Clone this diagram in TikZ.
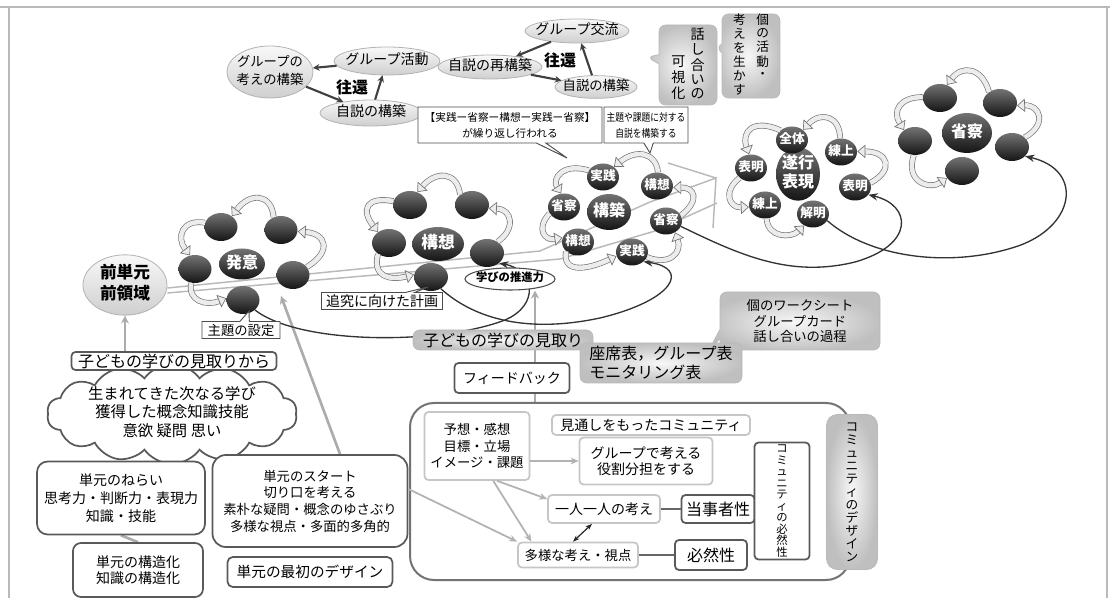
\documentclass[tikz,border=0pt]{standalone}
\usepackage{fontspec}
\setmainfont{Noto Sans CJK JP}
\newfontfamily\jpc[FakeStretch=0.82]{Noto Sans CJK JP}
\usetikzlibrary{shapes.geometric,shapes.symbols,shapes.callouts,arrows.meta,calc}
\pgfdeclarelayer{bg}
\pgfsetlayers{bg,main}
\newcommand\fsz[2]{\fontsize{#1pt}{#2pt}\selectfont}
\newcommand\Zc[1]{\makebox[0pt]{\begin{tabular}{@{}c@{}}#1\end{tabular}}}
\newcommand\Vb[1]{\begin{tabular}[b]{@{}c@{}}#1\end{tabular}}
\newcommand\Vt[1]{\begin{tabular}[t]{@{}c@{}}#1\end{tabular}}
\tikzset{
  sz/.style 2 args={minimum width=#1*0.75pt, minimum height=#2*0.75pt, inner sep=0pt},
  dot/.style={ellipse, sz={32}{27}, top color=black!55, bottom color=black!92, text=white, font=\bfseries\fsz{9.5}{10}},
  bdot/.style={ellipse, inner sep=0pt, top color=black!55, bottom color=black!92, text=white, font=\bfseries\fsz{12}{13}},
  gell/.style={ellipse, draw=gray!60, line width=0.6pt, top color=gray!5, bottom color=gray!38},
  carrow/.style={draw=black!55, double=gray!15, double distance=3.4pt, line width=0.5pt, -{Triangle[length=6pt,width=10pt,fill=gray!15]}},
  darr/.style={draw=black!80, line width=1pt, -{Stealth[length=7pt,width=5.5pt]}},
  sarr/.style={draw=black!75, line width=1.6pt, -{Stealth[length=5pt,width=5pt]}},
  gline/.style={draw=gray!65, line width=2pt},
  road/.style={draw=gray!55, line width=1.1pt},
  callb/.style={rectangle callout, draw=black!70, fill=white, line width=0.7pt, align=center},
  gfill/.style={inner color=gray!6, outer color=gray!50},
  gcall/.style={rectangle callout, rounded corners=5pt, draw=gray!55, line width=0.5pt, gfill},
  gbox/.style={rectangle, rounded corners=5pt, draw=gray!55, line width=0.5pt, gfill, align=center},
  wbox/.style={rectangle, rounded corners=3pt, draw=black!65, line width=1.3pt, fill=white, align=center},
  lbox/.style={rectangle, rounded corners=3pt, draw=gray!45, line width=1.3pt, fill=white, align=center},
  garrow/.style={draw=gray!60, line width=1.3pt, -{Stealth[length=6pt,width=5pt]}},
}
\begin{document}
\begin{tikzpicture}[x=0.75pt,y=-0.75pt]
\useasboundingbox (0,0) rectangle (1110,598);
\draw[gray!55, line width=0.8pt] (0,7) -- (1110,7);
\draw[gray!55, line width=0.8pt] (9,7) -- (9,598);
\draw[gray!55, line width=0.8pt] (1107,7) -- (1107,598);

% ---- top groups
\node[gell, sz={86}{52}, font=\fsz{10}{13}] (gkk) at (270,72) {\Zc{グループの\\考えの構築}};
\node[gell, sz={106}{28}, font=\fsz{10.5}{12}] (gka) at (387,61) {\Zc{グループ活動}};
\node[gell, sz={102}{26}, font=\fsz{10.5}{12}] (jsk1) at (371,113) {\Zc{自説の構築}};
\node[font=\bfseries\fsz{12}{14}] (ok1) at (352,87) {往還};
\node[gell, sz={104}{24}, font=\fsz{10.5}{12}] (gkr) at (577,31) {\Zc{グループ交流}};
\node[gell, sz={104}{24}, font=\fsz{10.5}{12}] (jsr) at (490,67) {\Zc{自説の再構築}};
\node[gell, sz={82}{22}, font=\fsz{10}{12}] (jsk2) at (596,87) {\Zc{自説の構築}};
\node[font=\bfseries\fsz{12}{14}] (ok2) at (560,60) {往還};
\draw[sarr] (gka) -- (gkk);
\draw[sarr] (gkk) -- (jsk1);
\draw[sarr] (jsk1) -- (gka);
\draw[sarr] (gkr) -- (jsr);
\draw[sarr] (jsr) -- (jsk2);
\draw[sarr] (jsk2) -- (gkr);

\node[gcall, sz={58}{80}, callout absolute pointer={(647,57)}, font=\fsz{10.5}{10.5}] (kashika) at (688,65)
 {\Vb{可\\視\\化}\hspace{4pt}\Vb{話\\し\\合\\い\\の}\hspace{14pt}};
\node[gcall, sz={58}{80}, callout absolute pointer={(716,47)}, font=\fsz{9.5}{9.5}] (kobetsu) at (751,56)
 {\Vt{考\\え\\を\\生\\か\\す}\hspace{8pt}\Vt{個\\の\\活\\動\\・}};

\node[callb, sz={184}{36}, callout absolute pointer={(567,158)}, font=\fsz{8}{12}] (cb1) at (510,125) {【実践ー省察ー構想ー実践ー省察】\\が繰り返し行われる};
\node[callb, sz={84}{36}, callout absolute pointer={(650,153)}, font=\jpc\fsz{8}{12}] (cb2) at (646,125) {主題や課題に対する\\自説を構築する};

% ---- cluster 1
\node[bdot, sz={46}{31}] (c1) at (242,264) {\Zc{発意}};
\node[dot, sz={33}{28}] (c1a) at (221,227) {};
\node[dot, sz={33}{28}] (c1b) at (281,230) {};
\node[dot, sz={33}{28}] (c1c) at (195,269) {};
\node[dot, sz={33}{28}] (c1d) at (293,275) {};
\node[dot, sz={33}{28}] (c1e) at (243,300) {};
% ---- cluster 2
\node[bdot, sz={52}{34}, font=\bfseries\fsz{12.5}{13}] (c2) at (438,244) {\Zc{構想}};
\node[dot, sz={34}{28}] (c2a) at (410,205) {};
\node[dot, sz={34}{28}] (c2b) at (472,205) {};
\node[dot, sz={34}{28}] (c2c) at (389,243) {};
\node[dot, sz={34}{28}] (c2d) at (487,253) {};
\node[dot, sz={34}{28}] (c2e) at (431,277) {};
% ---- cluster 3
\node[bdot, sz={44}{36}] (c3) at (609,212) {\Zc{構築}};
\node[dot] (c3a) at (603,177) {\Zc{実践}};
\node[dot] (c3b) at (657,186) {\Zc{構想}};
\node[dot] (c3c) at (564,207) {\Zc{省察}};
\node[dot] (c3d) at (666,221) {\Zc{省察}};
\node[dot] (c3e) at (578,242) {\Zc{構想}};
\node[dot] (c3f) at (632,252) {\Zc{実践}};
% ---- cluster 4
\node[bdot, sz={44}{44}, font=\bfseries\fsz{12}{13}] (c4) at (798,174) {\Zc{遂行\\表現}};
\node[dot] (d1) at (792,140) {\Zc{全体}};
\node[dot] (d2) at (841,152) {\Zc{練上}};
\node[dot] (d3) at (751,168) {\Zc{表明}};
\node[dot] (d4) at (855,187) {\Zc{表明}};
\node[dot] (d5) at (765,205) {\Zc{練上}};
\node[dot] (d6) at (813,214) {\Zc{解明}};
% ---- cluster 5
\node[bdot, sz={50}{40}] (c5) at (967,133) {\Zc{省察}};
\node[dot, sz={34}{28}] (e1) at (940,98) {};
\node[dot, sz={34}{28}] (e2) at (1000,103) {};
\node[dot, sz={34}{28}] (e3) at (915,141) {};
\node[dot, sz={34}{28}] (e4) at (1012,147) {};
\node[dot, sz={34}{28}] (e5) at (962,171) {};

\node[gell, sz={84}{54}, font=\bfseries\fsz{12.5}{16}] (zen) at (125,285) {\Zc{前単元\\前領域}};
\node[ellipse, draw=black!70, line width=0.8pt, fill=white, sz={90}{22}, font=\bfseries\fsz{8.5}{10}] (suishin) at (510,279) {\Zc{学びの推進力}};
\node[callb, sz={78}{17}, callout absolute pointer={(249,311)}, font=\fsz{10}{12}] (cb3) at (241,330) {主題の設定};
\node[callb, sz={121}{17}, callout absolute pointer={(428,287)}, font=\fsz{10.5}{12}] (cb4) at (382,301) {追究に向けた計画};

% ---- middle
\node[gbox, sz={180}{20}, font=\fsz{12}{14}] (mitori) at (503,340) {子どもの学びの見取り};
\node[gcall, align=center, sz={160}{58}, callout absolute pointer={(708,352)}, font=\fsz{10}{11.5}] (sheet) at (800,321) {個のワークシート\\グループカード\\話し合いの過程};
\node[gbox, sz={162}{40}, align=left, font=\fsz{12}{14}] (zaseki) at (661,363) {座席表，グループ表\\モニタリング表};
\node[wbox, sz={115}{30}, font=\fsz{10.5}{12}] (fb) at (512,378) {フィードバック};

% ---- community
\node[rectangle, rounded corners=18pt, draw=black!55, line width=1.5pt, fill=white, sz={440}{177}] (comm) at (630,491.5) {};
\node[lbox, sz={105}{68}, font=\fsz{10}{12.5}] (yosou) at (477,446) {予想・感想\\目標・立場\\イメージ・課題};
\node[lbox, sz={198}{20}, font=\fsz{10.5}{12}] (mitoshi) at (651,425) {見通しをもったコミュニティ};
\node[lbox, sz={133}{47}, font=\fsz{10.5}{12}] (group) at (646,461) {グループで考える\\役割分担をする};
\node[lbox, sz={112}{28}, font=\fsz{10.5}{12}] (hitori) at (604,509) {一人一人の考え};
\node[wbox, sz={73}{28}, font=\fsz{12}{14}] (tojisha) at (718,509) {当事者性};
\node[lbox, sz={120}{25}, font=\fsz{10}{12}] (tayou) at (578,555) {多様な考え・視点};
\node[wbox, sz={72}{30}, font=\fsz{12}{14}] (hitsuzen) at (711,555) {必然性};
\node[wbox, sz={55}{117}, font=\fsz{8.5}{8.6}] (cnec) at (782,501) {コ\\ミ\\ュ\\ニ\\テ\\ィ\\の\\必\\然\\性};
\node[gbox, rounded corners=8pt, sz={51}{155}, font=\fsz{9.5}{9.75}] (cdes) at (852,492) {コ\\ミ\\ュ\\ニ\\テ\\ィ\\の\\デ\\ザ\\イ\\ン};

% ---- left
\node[cloud, cloud puffs=14, cloud puff arc=110, cloud ignores aspect, draw=black!65, line width=1.3pt, fill=white, sz={250}{100}, font=\fsz{11.5}{13.5}] (cloud) at (172,414) {\Zc{生まれてきた次なる学び\\獲得した概念知識技能\\意欲\ 疑問\ 思い}};
\node[wbox, sz={205}{18}, font=\fsz{12}{14}] (kara) at (174,361) {子どもの学びの見取りから};
\node[wbox, rounded corners=8pt, sz={168}{73}, font=\fsz{10.5}{13.5}] (nerai) at (121,498) {単元のねらい\\思考力・判断力・表現力\\知識・技能};
\node[wbox, rounded corners=6pt, sz={130}{54}, font=\fsz{10.5}{12}] (kozo) at (138,570) {単元の構造化\\知識の構造化};
\node[wbox, rounded corners=10pt, sz={195}{92}, font=\fsz{10}{12.5}] (start) at (310,501) {単元のスタート\\切り口を考える\\素朴な疑問・概念のゆさぶり\\多様な視点・多面的多角的};
\node[wbox, rounded corners=4pt, sz={165}{30}, font=\fsz{11}{13}] (saisho) at (310,572) {単元の最初のデザイン};

\coordinate (vx) at (535,0);
\coordinate (tgt1) at (281,296);

\begin{pgfonlayer}{bg}
\draw[road] ($(zen.east)+(0,3)$) -- (540,251) -- (650,202) -- (716,178) -- (713,228);
\draw[road] ($(zen.east)+(0,8)$) -- (560,259) -- (655,231) -- (717,203);
\draw[road] (668,163) -- (716,178);
\draw[gline, -{Stealth[length=6pt,width=6pt]}] (comm.north -| vx) -- (suishin.south -| vx);
\draw[gline, -{Stealth[length=6pt,width=6pt]}] (kara.north -| zen.south) -- (zen.south);
\draw[gline, -{Stealth[length=6pt,width=6pt]}] ($(start.north)+(30,0)$) -- (tgt1);
\draw[gline] (nerai.south) -- (kozo.north);
\draw[darr] (c1e.-40) .. controls (300,345) and (440,345) .. (505,320) .. controls (540,305) and (535,270) .. (c2d.-40);
\draw[darr] (c2e.-50) .. controls (470,315) and (520,335) .. (600,318) .. controls (675,300) and (690,268) .. (c3f.-40);
\draw[darr] (c3d.-20) .. controls (740,255) and (790,278) .. (855,262) .. controls (915,245) and (912,205) .. (d4.-30);
\draw[darr] (d6.-25) .. controls (870,258) and (950,268) .. (1015,247) .. controls (1075,228) and (1085,170) .. (e4.-35);
\end{pgfonlayer}

% ---- cycle arrows
\draw[carrow] (c1b.120) .. controls +(-2,-24) and +(18,-24) .. (c1a.45);
\draw[carrow] (c1a.165) .. controls +(-23,-4) and +(-14,-18) .. (c1c.110);
\draw[carrow] (c1d.30) .. controls +(26,-16) and +(28,2) .. (c1b.-5);
\draw[carrow] (c1c.-105) .. controls +(-4,18) and +(-20,8) .. (c1e.174);

\draw[carrow] (c2b.139) .. controls +(-3,-24) and +(18,-21) .. (c2a.60);
\draw[carrow] (c2a.167) .. controls +(-26,-5) and +(-18,-23) .. (c2c.135);
\draw[carrow] (c2d.47) .. controls +(18,-12) and +(24,1) .. (c2b.-11);
\draw[carrow] (c2c.-135) .. controls +(-6,23) and +(-24,6) .. (c2e.172);

\draw[carrow] (c3b.86) .. controls +(-2,-20) and +(22,-18) .. (c3a.43);
\draw[carrow] (c3a.155) .. controls +(-27,-8) and +(-9,-14) .. (c3c.102);
\draw[carrow] (c3c.-156) .. controls +(-14,15) and +(-18,3) .. (c3e.165);
\draw[carrow] (c3d.20) .. controls +(20,-16) and +(21,0) .. (c3b.-5);
\draw[carrow] (c3e.-142) .. controls +(-4,22) and +(-30,14) .. (c3f.195);
\draw[carrow] (c3f.-19) .. controls +(23,9) and +(7,20) .. (c3d.-51);

\draw[carrow] (d1.140) .. controls +(-27,-12) and +(-8,-23) .. (d3.98);
\draw[carrow] (d2.94) .. controls +(0,-22) and +(18,-19) .. (d1.43);
\draw[carrow] (d4.15) .. controls +(24,-13) and +(31,0) .. (d2.2);
\draw[carrow] (d3.-139) .. controls +(-17,13) and +(-20,1) .. (d5.-173);
\draw[carrow] (d5.-83) .. controls +(1,19) and +(-13,13) .. (d6.-128);

\draw[carrow] (e2.135) .. controls +(-7,-25) and +(15,-20) .. (e1.62);
\draw[carrow] (e1.177) .. controls +(-23,0) and +(-12,-19) .. (e3.135);
\draw[carrow] (e4.37) .. controls +(23,-13) and +(23,-1) .. (e2.-9);
\draw[carrow] (e3.-95) .. controls +(-9,27) and +(-17,12) .. (e5.-155);

% ---- community connectors
\draw[garrow] (yosou.east |- group.west) -- (group.west);
\draw[garrow] (yosou.-60) -- ($(hitori.west)+(0,-10)$);
\draw[garrow] (yosou.-65) -- (tayou.164);
\draw[garrow] ($(start.east)+(0,-12)$) -- (tayou.north west);
\draw[black!85, line width=0.9pt, {Stealth[length=5pt]}-{Stealth[length=5pt]}] ($(hitori.south)+(-12,0)$) -- ($(tayou.north)+(-5,0)$);
\draw[black!60, line width=2pt] (hitori) -- (tojisha);
\draw[black!60, line width=2pt] (tayou) -- (hitsuzen);
\end{tikzpicture}
\end{document}
